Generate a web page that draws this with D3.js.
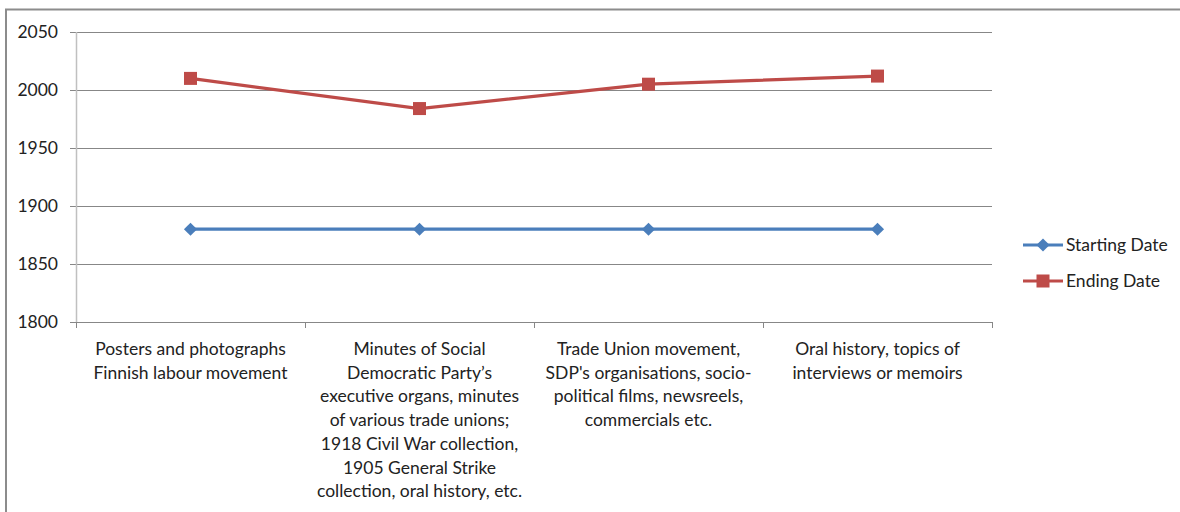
<!DOCTYPE html>
<html lang="en">
<head>
    <meta charset="UTF-8">
    <title>Archive date ranges</title>
    <style>
        body{
            margin: 0;
            background: #fff;
        }
        svg{
            display: block;
        }
        text{
            font-family: Lato, "Open Sans", sans-serif;
            font-size: 17.5px;
            fill: #222;
        }
    </style>
    <script src="https://cdn.jsdelivr.net/npm/d3@7"></script>
</head>
<body>
<script>
    const width = 1180
    const height = 512

    // category labels, already split into lines as in the picture
    const categories = [
        ["Posters and photographs", "Finnish labour movement"],
        ["Minutes of Social", "Democratic Party\u2019s", "executive organs, minutes", "of various trade unions;",
            "1918 Civil War collection,", "1905 General Strike", "collection, oral history, etc."],
        ["Trade Union movement,", "SDP's organisations, socio-", "political films, newsreels,", "commercials etc."],
        ["Oral history, topics of", "interviews or memoirs"]
    ]
    const startingDate = [1880, 1880, 1880, 1880]
    const endingDate = [2010, 1984, 2005, 2012]
    const yTicks = [1800, 1850, 1900, 1950, 2000, 2050]

    const series = [
        {name: "Starting Date", values: startingDate, color: "#4a7ebb", shape: "diamond"},
        {name: "Ending Date", values: endingDate, color: "#be4b48", shape: "square"}
    ]

    let svg = d3.select("body").append("svg")
        .attr("width", width)
        .attr("height", height)

    // outer chart frame
    svg.append("rect")
        .attr("x", 6).attr("y", 9.5)
        .attr("width", width + 20).attr("height", height + 20)
        .attr("fill", "none")
        .attr("stroke", "#8c8c8c")
        .attr("stroke-width", 2)

    const plot = {left: 76, right: 992, top: 32, bottom: 322}

    const x = d3.scaleBand()
        .domain(d3.range(categories.length))
        .range([plot.left, plot.right])
    const y = d3.scaleLinear()
        .domain([1800, 2050])
        .range([plot.bottom, plot.top])

    // gridlines
    svg.append("g")
        .selectAll("line")
        .data(yTicks)
        .join("line")
        .attr("x1", plot.left - 6).attr("x2", plot.right)
        .attr("y1", d => Math.round(y(d)) + 0.5)
        .attr("y2", d => Math.round(y(d)) + 0.5)
        .attr("stroke", "#878787")

    // y axis line
    svg.append("line")
        .attr("x1", plot.left + 0.5).attr("x2", plot.left + 0.5)
        .attr("y1", plot.top).attr("y2", plot.bottom)
        .attr("stroke", "#c0c0c0")
        .attr("stroke-width", 1.5)

    // y tick labels
    svg.append("g")
        .selectAll("text")
        .data(yTicks)
        .join("text")
        .attr("x", plot.left - 18)
        .attr("y", d => y(d))
        .attr("dy", "0.35em")
        .attr("text-anchor", "end")
        .text(d => d)

    // x tick marks at category boundaries
    const bounds = d3.range(categories.length + 1).map(i => plot.left + i * x.bandwidth())
    svg.append("g")
        .selectAll("line")
        .data(bounds)
        .join("line")
        .attr("x1", d => Math.round(d) + 0.5).attr("x2", d => Math.round(d) + 0.5)
        .attr("y1", plot.bottom).attr("y2", plot.bottom + 6)
        .attr("stroke", "#878787")

    // category labels
    const lineH = 23.7
    svg.append("g")
        .selectAll("text")
        .data(categories)
        .join("text")
        .attr("text-anchor", "middle")
        .attr("transform", (d, i) => `translate(${x(i) + x.bandwidth() / 2},${plot.bottom + 33})`)
        .selectAll("tspan")
        .data(d => d)
        .join("tspan")
        .attr("x", 0)
        .attr("y", (d, i) => i * lineH)
        .text(d => d)

    const line = d3.line()
        .x((d, i) => x(i) + x.bandwidth() / 2)
        .y(d => y(d))

    function marker(g, shape, color, cx, cy) {
        if (shape === "diamond") {
            g.append("path")
                .attr("d", d3.symbol(d3.symbolDiamond2, 110)())
                .attr("transform", `translate(${cx},${cy})`)
                .attr("fill", color)
        } else {
            g.append("rect")
                .attr("x", cx - 6.5).attr("y", cy - 6.5)
                .attr("width", 13).attr("height", 13)
                .attr("fill", color)
        }
    }

    series.forEach(s => {
        let g = svg.append("g")
        g.append("path")
            .datum(s.values)
            .attr("d", line)
            .attr("fill", "none")
            .attr("stroke", s.color)
            .attr("stroke-width", 3.2)
        s.values.forEach((v, i) => marker(g, s.shape, s.color, x(i) + x.bandwidth() / 2, y(v)))
    })

    // legend
    const legend = svg.append("g")
        .selectAll("g")
        .data(series)
        .join("g")
        .attr("transform", (d, i) => `translate(1023,${245 + i * 36})`)
    legend.append("line")
        .attr("x1", 0).attr("x2", 40)
        .attr("stroke", d => d.color)
        .attr("stroke-width", 3.2)
    legend.each(function (d) {
        marker(d3.select(this), d.shape, d.color, 20, 0)
    })
    legend.append("text")
        .attr("x", 43)
        .attr("dy", "0.35em")
        .text(d => d.name)
</script>
</body>
</html>
